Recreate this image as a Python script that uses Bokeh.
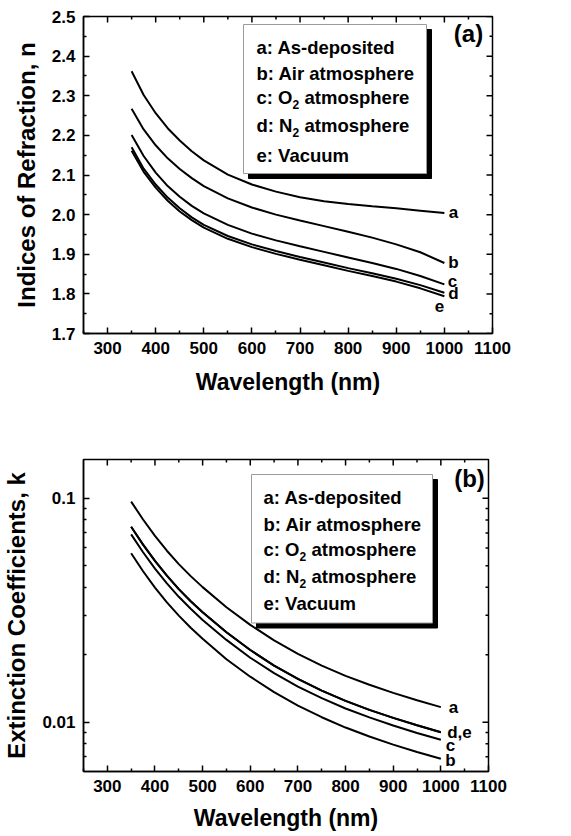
import math
from bokeh.plotting import figure
from bokeh.models import (Range1d, FixedTicker, CustomJSTickFormatter, NumeralTickFormatter)
from bokeh.layouts import column
from bokeh.embed import file_html
from bokeh.resources import INLINE
from bokeh.core.properties import value

# ---------------- data ----------------
wavelength = [350, 375, 400, 425, 450, 475, 500, 550, 600, 650, 700, 750, 800, 850, 900, 950, 1000]

n_a = [2.362, 2.302, 2.256, 2.218, 2.187, 2.160, 2.137, 2.101, 2.076, 2.058, 2.044, 2.034, 2.027, 2.021, 2.016, 2.010, 2.004]
n_b = [2.267, 2.215, 2.175, 2.142, 2.115, 2.092, 2.072, 2.041, 2.018, 2.000, 1.985, 1.971, 1.957, 1.942, 1.925, 1.905, 1.878]
n_c = [2.201, 2.148, 2.106, 2.072, 2.045, 2.022, 2.003, 1.974, 1.952, 1.935, 1.920, 1.906, 1.892, 1.878, 1.863, 1.845, 1.824]
n_d = [2.170, 2.116, 2.076, 2.043, 2.016, 1.993, 1.974, 1.946, 1.925, 1.908, 1.893, 1.879, 1.865, 1.852, 1.838, 1.822, 1.803]
n_e = [2.161, 2.108, 2.068, 2.035, 2.008, 1.986, 1.967, 1.939, 1.918, 1.901, 1.886, 1.872, 1.858, 1.845, 1.831, 1.814, 1.794]

k_a = [0.0966, 0.0804, 0.0679, 0.0583, 0.0508, 0.0449, 0.0401, 0.0326, 0.0272, 0.0232, 0.0202, 0.0179, 0.0161, 0.01469, 0.01352, 0.01253, 0.01167]
k_b = [0.0568, 0.0472, 0.0399, 0.0343, 0.0299, 0.0264, 0.0236, 0.0191, 0.01596, 0.01361, 0.01186, 0.01052, 0.00946, 0.00863, 0.00794, 0.00736, 0.00686]
k_c = [0.0690, 0.0574, 0.0485, 0.0417, 0.0363, 0.0321, 0.0286, 0.0233, 0.0194, 0.01656, 0.01442, 0.0128, 0.01151, 0.0105, 0.00966, 0.00895, 0.00834]
k_d = [0.0746, 0.0621, 0.0525, 0.0451, 0.0393, 0.0347, 0.0310, 0.0252, 0.0210, 0.0179, 0.0156, 0.01384, 0.01245, 0.01135, 0.01045, 0.00968, 0.00902]
k_e = [0.0746, 0.0621, 0.0525, 0.0451, 0.0393, 0.0347, 0.0310, 0.0252, 0.0210, 0.0179, 0.0156, 0.01384, 0.01245, 0.01135, 0.01045, 0.00968, 0.00902]

legend_entries = [("a: As-deposited", "", ""),
                  ("b: Air atmosphere", "", ""),
                  ("c: O", "2", "atmosphere"),
                  ("d: N", "2", "atmosphere"),
                  ("e: Vacuum", "", "")]

x_major = [300, 400, 500, 600, 700, 800, 900, 1000, 1100]
x_minor = [250, 350, 450, 550, 650, 750, 850, 950, 1050]
n_major = [1.7, 1.8, 1.9, 2.0, 2.1, 2.2, 2.3, 2.4, 2.5]
n_minor = [1.75, 1.85, 1.95, 2.05, 2.15, 2.25, 2.35, 2.45]
k_major = [0.01, 0.1]
k_minor = [0.007, 0.008, 0.009, 0.02, 0.03, 0.04, 0.05, 0.06, 0.07, 0.08, 0.09]

FONT = "Liberation Sans"

# ---------------- layout constants (page pixels) ----------------
X0, X1 = 250, 1100
N0, N1 = 1.7, 2.5
K0, K1 = 0.00602, 0.149

T_LEFT, T_TOP, T_W, T_H = 85, 16, 409, 317
B_LEFT, B_TOP, B_W, B_H = 85, 459, 405, 312
MAJ, MIN = 6, 3


def tx(px):
    return X0 + (px - T_LEFT) / T_W * (X1 - X0)


def ty(py):
    return N1 - (py - T_TOP) / T_H * (N1 - N0)


LK0, LK1 = math.log10(K0), math.log10(K1)


def bx(px):
    return X0 + (px - B_LEFT) / B_W * (X1 - X0)


def by(py):
    return 10 ** (LK1 - (py - B_TOP) / B_H * (LK1 - LK0))


def style_axis(ax):
    ax.axis_line_width = 1.5
    ax.axis_line_color = "black"
    ax.major_tick_in = MAJ
    ax.major_tick_out = 0
    ax.minor_tick_in = MIN
    ax.minor_tick_out = 0
    ax.major_tick_line_width = 1.5
    ax.minor_tick_line_width = 1.5
    ax.major_tick_line_color = "black"
    ax.minor_tick_line_color = "black"
    ax.major_label_text_font = FONT
    ax.major_label_text_font_style = "bold"
    ax.major_label_text_font_size = "17px"
    ax.major_label_text_color = "black"
    ax.major_label_standoff = 8
    ax.axis_label_text_font = FONT
    ax.axis_label_text_font_style = "bold"
    ax.axis_label_text_color = "black"


def mirror_ticks(p, xf, yf, left, top, w, h, xmaj, xmin, ymaj, ymin):
    # ticks on the top and right edges of the frame, pointing inwards
    for ticks, ln in ((xmaj, MAJ), (xmin, MIN)):
        p.segment(x0=ticks, x1=ticks, y0=[yf(top)] * len(ticks), y1=[yf(top + ln)] * len(ticks),
                  line_color="black", line_width=1.5)
    for ticks, ln in ((ymaj, MAJ), (ymin, MIN)):
        p.segment(x0=[xf(left + w)] * len(ticks), x1=[xf(left + w - ln)] * len(ticks), y0=ticks, y1=ticks,
                  line_color="black", line_width=1.5)


def add_legend(p, xf, yf, box, text_x, rows):
    l, t, r, b = box
    p.quad(left=[xf(l + 5)], right=[xf(r + 5)], top=[yf(t + 5)], bottom=[yf(b + 5)],
           fill_color="black", line_color="black", line_width=1)
    p.quad(left=[xf(l)], right=[xf(r)], top=[yf(t)], bottom=[yf(b)],
           fill_color="white", line_color="#9a9a9a", line_width=1)
    prefix_w = 36.0
    sub_w = 7.0
    gap = 5.0
    for (main, sub, rest), ry in zip(legend_entries, rows):
        p.text(x=[xf(text_x)], y=[yf(ry)], text=[main], text_font=value(FONT),
               text_font_style="bold", text_font_size="18.5px", text_baseline="middle",
               text_align="left", text_color="black")
        if sub:
            p.text(x=[xf(text_x)], y=[yf(ry)], text=[sub], x_offset=prefix_w, y_offset=7,
                   text_font=value(FONT), text_font_style="bold", text_font_size="12px",
                   text_baseline="middle", text_align="left", text_color="black")
            p.text(x=[xf(text_x)], y=[yf(ry)], text=[rest], x_offset=prefix_w + sub_w + gap,
                   text_font=value(FONT), text_font_style="bold", text_font_size="18.5px",
                   text_baseline="middle", text_align="left", text_color="black")


def base_figure(fw, fh, top, bottom, y_type="linear", y_range=None):
    p = figure(frame_width=fw, frame_height=fh, x_range=Range1d(X0, X1), y_range=y_range,
               y_axis_type=y_type, output_backend="svg", toolbar_location=None,
               min_border_left=77, min_border_right=45, min_border_top=top, min_border_bottom=bottom)
    p.grid.visible = False
    p.outline_line_color = "black"
    p.outline_line_width = 1.5
    p.background_fill_color = "white"
    p.border_fill_color = "white"
    return p


# ---------------- top panel ----------------
p1 = base_figure(T_W, T_H, 16, 75, y_range=Range1d(N0, N1))
p1.xaxis.ticker = FixedTicker(ticks=x_major, minor_ticks=x_minor)
p1.xaxis.formatter = NumeralTickFormatter(format="0")
p1.yaxis.ticker = FixedTicker(ticks=n_major, minor_ticks=n_minor)
p1.yaxis.formatter = NumeralTickFormatter(format="0.0")
p1.xaxis.axis_label = "Wavelength (nm)"
p1.yaxis.axis_label = "Indices of Refraction, n"
style_axis(p1.xaxis[0])
p1.xaxis[0].axis_label_text_font_size = "23px"
p1.xaxis[0].axis_label_standoff = 12
style_axis(p1.yaxis[0])
p1.yaxis[0].axis_label_text_font_size = "24px"
p1.yaxis[0].axis_label_standoff = 9
mirror_ticks(p1, tx, ty, T_LEFT, T_TOP, T_W, T_H, x_major[:-1], x_minor[1:], n_major, n_minor)

for ys in (n_a, n_b, n_c, n_d, n_e):
    p1.line(wavelength, ys, line_color="black", line_width=2)

add_legend(p1, tx, ty, (245, 24, 428, 173), 258, [47, 72.5, 97, 125, 155])

p1.text(x=[tx(470)], y=[ty(33)], text=["(a)"], text_font=value(FONT), text_font_style="bold",
        text_font_size="24px", text_align="center", text_baseline="middle", text_color="black")
p1.text(x=[tx(455), tx(455), tx(454), tx(455), tx(441)],
        y=[ty(211.5), ty(262), ty(280.5), ty(293), ty(305)],
        text=["a", "b", "c", "d", "e"], text_font=value(FONT), text_font_style="bold",
        text_font_size="17px", text_align="center", text_baseline="middle", text_color="black")

# ---------------- bottom panel ----------------
p2 = base_figure(B_W, B_H, 51, 55, y_type="log", y_range=Range1d(K0, K1))
p2.xaxis.ticker = FixedTicker(ticks=x_major, minor_ticks=x_minor)
p2.xaxis.formatter = NumeralTickFormatter(format="0")
p2.yaxis.ticker = FixedTicker(ticks=k_major, minor_ticks=k_minor)
p2.yaxis.formatter = CustomJSTickFormatter(code="return tick.toString();")
p2.xaxis.axis_label = "Wavelength (nm)"
p2.yaxis.axis_label = "Extinction Coefficients, k"
style_axis(p2.xaxis[0])
p2.xaxis[0].axis_label_text_font_size = "23px"
p2.xaxis[0].axis_label_standoff = 10
style_axis(p2.yaxis[0])
p2.yaxis[0].axis_label_text_font_size = "24px"
p2.yaxis[0].axis_label_standoff = 9
mirror_ticks(p2, bx, by, B_LEFT, B_TOP, B_W, B_H, x_major[:-1], x_minor[1:], k_major, k_minor)

for ys in (k_a, k_b, k_c, k_d, k_e):
    p2.line(wavelength, ys, line_color="black", line_width=2)

add_legend(p2, bx, by, (253, 474, 434, 622.5), 265, [497, 524, 548.5, 575.5, 603])

p2.text(x=[bx(471)], y=[by(478)], text=["(b)"], text_font=value(FONT), text_font_style="bold",
        text_font_size="24px", text_align="center", text_baseline="middle", text_color="black")
p2.text(x=[bx(455), bx(461), bx(452), bx(452)],
        y=[by(706.5), by(731.5), by(744.5), by(760)],
        text=["a", "d,e", "c", "b"], text_font=value(FONT), text_font_style="bold",
        text_font_size="17px", text_align="center", text_baseline="middle", text_color="black")

layout = column(p1, p2, spacing=0)
open("out.html", "w").write(file_html(layout, INLINE))
